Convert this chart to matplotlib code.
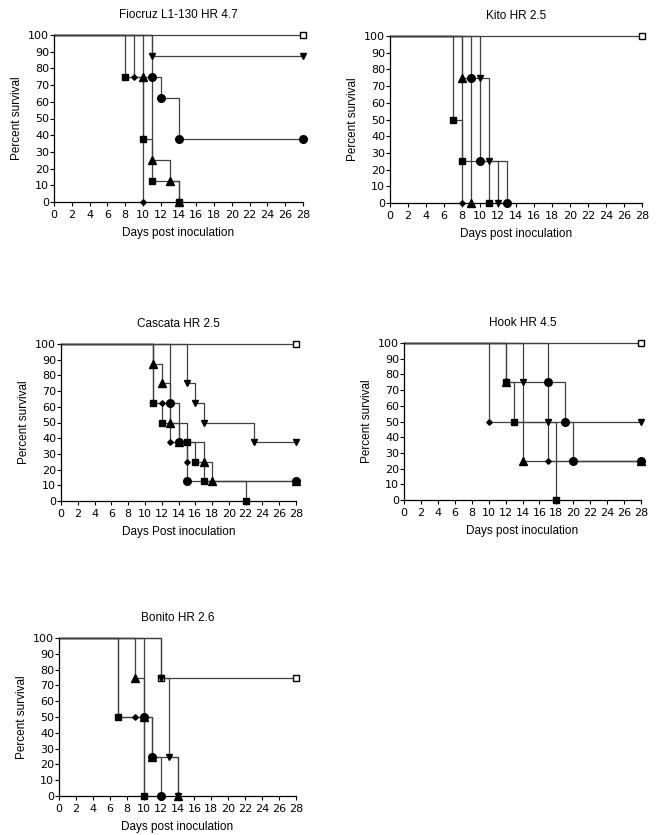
import matplotlib
matplotlib.use("Agg")
import matplotlib.pyplot as plt

plt.rcParams['font.family'] = ['Liberation Sans', 'DejaVu Sans']

# Kaplan-Meier data: group -> (event days, percent survival after event)
fiocruz = {
    "ctrl": ([28], [100]),
    "square": ([8, 10, 11, 14], [75, 37.5, 12.5, 0]),
    "diamond": ([9, 10], [75, 0]),
    "tri_up": ([10, 11, 13, 14], [75, 25, 12.5, 0]),
    "circle": ([11, 12, 14, 28], [75, 62.5, 37.5, 37.5]),
    "tri_down": ([11, 28], [87.5, 87.5]),
}
kito = {
    "ctrl": ([28], [100]),
    "square": ([7, 8, 11], [50, 25, 0]),
    "diamond": ([8], [0]),
    "tri_up": ([8, 9], [75, 0]),
    "circle": ([9, 10, 13], [75, 25, 0]),
    "tri_down": ([10, 11, 12], [75, 25, 0]),
}
cascata = {
    "ctrl": ([28], [100]),
    "square": ([11, 12, 15, 16, 17, 22], [62.5, 50, 37.5, 25, 12.5, 0]),
    "diamond": ([11, 12, 13, 15], [62.5, 62.5, 37.5, 25]),
    "tri_up": ([11, 12, 13, 14, 17, 18, 28], [87.5, 75, 50, 37.5, 25, 12.5, 12.5]),
    "circle": ([13, 14, 15, 28], [62.5, 37.5, 12.5, 12.5]),
    "tri_down": ([15, 16, 17, 23, 28], [75, 62.5, 50, 37.5, 37.5]),
}
hook = {
    "ctrl": ([28], [100]),
    "square": ([12, 13, 18], [75, 50, 0]),
    "diamond": ([10, 17, 28], [50, 25, 25]),
    "tri_up": ([12, 14, 28], [75, 25, 25]),
    "circle": ([17, 19, 20, 28], [75, 50, 25, 25]),
    "tri_down": ([14, 17, 28], [75, 50, 50]),
}
bonito = {
    "ctrl": ([12, 28], [75, 75]),
    "square": ([7, 10], [50, 0]),
    "diamond": ([7, 9, 10], [50, 50, 0]),
    "tri_up": ([9, 10, 11, 14], [75, 50, 25, 0]),
    "circle": ([10, 11, 12], [50, 25, 0]),
    "tri_down": ([12, 13, 14], [75, 25, 0]),
}

titles = ["Fiocruz L1-130 HR 4.7", "Kito HR 2.5", "Cascata HR 2.5", "Hook HR 4.5", "Bonito HR 2.6"]
xlabels = ["Days post inoculation", "Days post inoculation", "Days Post inoculation",
           "Days post inoculation", "Days post inoculation"]
panels = [fiocruz, kito, cascata, hook, bonito]

# marker style per group
styles = {
    "ctrl": dict(marker="s", ms=4.5, mfc="white", mec="black", mew=1.0),
    "square": dict(marker="s", ms=4.5, mfc="black", mec="black"),
    "diamond": dict(marker="D", ms=2.8, mfc="black", mec="black"),
    "tri_up": dict(marker="^", ms=5.5, mfc="black", mec="black"),
    "circle": dict(marker="o", ms=5.5, mfc="black", mec="black"),
    "tri_down": dict(marker="v", ms=5, mfc="black", mec="black"),
}

# axes boxes in pixels: left, right, top, bottom
boxes = [(54, 303, 35, 202), (390, 642, 36, 203), (61, 296, 344, 501),
         (404, 641, 343, 500), (59, 296, 638, 796)]

W, H = 656, 835
fig = plt.figure(figsize=(W / 100, H / 100), dpi=100)

for data, title, xl, (l, r, t, b) in zip(panels, titles, xlabels, boxes):
    ax = fig.add_axes([l / W, 1 - b / H, (r - l) / W, (b - t) / H])
    for key in ["ctrl", "tri_down", "circle", "tri_up", "diamond", "square"]:
        days, surv = data[key]
        ax.step([0] + days, [100] + surv, where="post", color="#404040", lw=0.9,
                clip_on=False, zorder=2)
        ax.plot(days, surv, ls="none", clip_on=False, zorder=3, **styles[key])
    ax.set_xlim(0, 28)
    ax.set_ylim(0, 100)
    ax.set_xticks(range(0, 29, 2))
    ax.set_yticks(range(0, 101, 10))
    for s in ["top", "right"]:
        ax.spines[s].set_visible(False)
    for s in ["left", "bottom"]:
        ax.spines[s].set_linewidth(0.9)
    ax.tick_params(direction="out", length=3, width=0.8, labelsize=8)
    ax.tick_params(axis="x", pad=3)
    ax.tick_params(axis="y", pad=0.5)
    for lab in ax.get_xticklabels() + ax.get_yticklabels():
        lab.set_family("DejaVu Sans")
    ax.set_title(title, fontsize=8.5, pad=12)
    ax.set_xlabel(xl, fontsize=8.5, labelpad=5)
    ax.set_ylabel("Percent survival", fontsize=8.5, labelpad=4)

fig.savefig("out.png", dpi=100)
